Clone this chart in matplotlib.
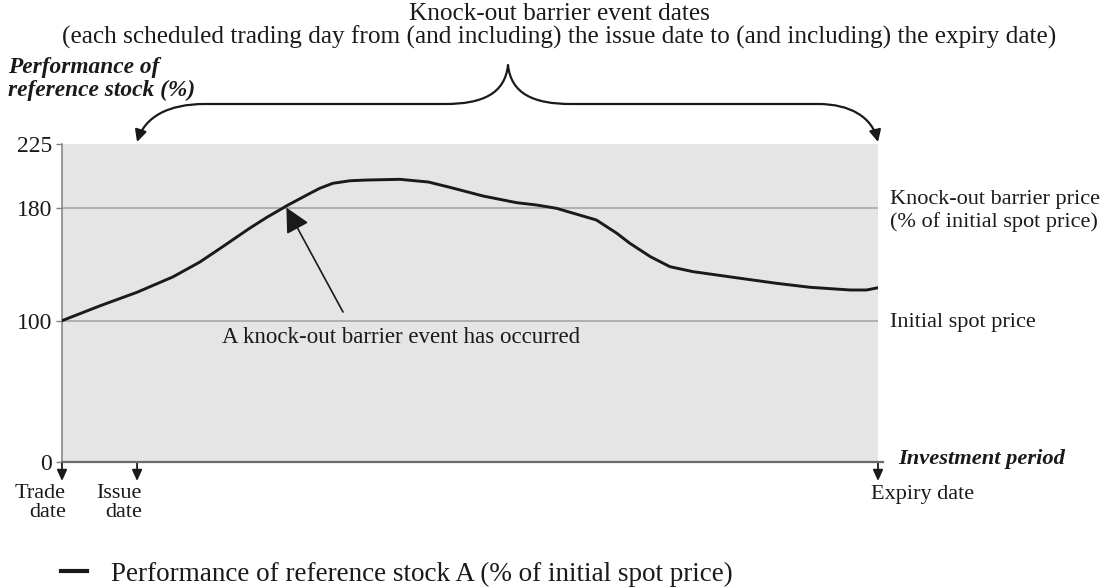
import matplotlib
matplotlib.use("Agg")
import matplotlib.pyplot as plt
from matplotlib.path import Path
from matplotlib.patches import FancyArrowPatch
from matplotlib.lines import Line2D

# ---------------- data ----------------
time_pts = [0, 4.7, 9.2, 13.6, 16.9, 19.4, 23.0, 25.1, 27.7, 30.0, 31.6, 33.2,
            35.3, 37.3, 41.4, 44.9, 47.5, 51.6, 55.7, 58.2, 60.6, 65.5, 68.0,
            69.6, 72.1, 74.5, 77.3, 83.1, 87.6, 91.7, 96.6, 98.6, 100]
performance = [100, 110.6, 120.1, 131.0, 141.5, 151.2, 165.4, 173.1, 181.8,
               188.9, 193.7, 197.2, 199.0, 199.5, 200, 198.1, 194.4, 188.2,
               183.5, 181.8, 179.5, 171.2, 161.8, 154.7, 145.3, 138.2, 134.7,
               130, 126.4, 123.6, 121.7, 121.7, 123.3]
barrier_level = 180
initial_level = 100
knock_out_time = 27.5
y_ticks = [0, 100, 180, 225]
date_names = ["Trade\ndate", "Issue\ndate", "Expiry date"]
date_pos = [0, 9.2, 100]

W, H = 1109, 587
SERIF = ["Liberation Serif", "DejaVu Serif"]
INK = "#1a1a1a"

fig = plt.figure(figsize=(W / 100, H / 100), dpi=100)
ax = fig.add_axes([62 / W, 1 - 462 / H, (878 - 62) / W, (462 - 144) / H])
ax.set_xlim(0, 100)
ax.set_ylim(0, 225)
ax.set_facecolor("#e5e5e5")

ax.axhline(barrier_level, color="#a6a6a6", lw=1.2, zorder=1)
ax.axhline(initial_level, color="#a6a6a6", lw=1.2, zorder=1)
ax.plot(time_pts, performance, color=INK, lw=2.1, zorder=3,
        solid_capstyle="round", solid_joinstyle="round")

for s in ["top", "right", "bottom"]:
    ax.spines[s].set_visible(False)
ax.spines["left"].set_color("#808080")
ax.spines["left"].set_linewidth(1.1)
ax.plot([0, 100.6], [0, 0], color="#6a6a6a", lw=1.6, clip_on=False, zorder=4)

ax.set_xticks([])
ax.set_yticks(y_ticks)
ax.set_yticklabels([str(v) for v in y_ticks], fontfamily=SERIF, fontsize=17,
                   color=INK)
ax.tick_params(axis="y", direction="out", length=4, width=1.0, color="#808080",
               pad=3)

def fx(px):
    return px / W

def fy(py):
    return 1 - py / H

def dx(px):
    return (px - 62) / (878 - 62) * 100

def dy(py):
    return (462 - py) / (462 - 144) * 225

# Title
TFS = 18.2
fig.text(fx(559), fy(14), "Knock-out barrier event dates", ha="center",
         va="center", fontfamily=SERIF, fontsize=TFS, color=INK)
fig.text(fx(559), fy(37),
         "(each scheduled trading day from (and including) the issue date to (and including) the expiry date)",
         ha="center", va="center", fontfamily=SERIF, fontsize=TFS, color=INK)

# Y axis title
for txt, yy in [("Performance of", 67), ("reference stock (%)", 90)]:
    fig.text(fx(8), fy(yy), txt, ha="left", va="center", fontfamily=SERIF,
             fontsize=16.8, fontweight="bold", fontstyle="italic", color=INK)

# Brace with arrows
iss, exp_ = date_pos[1], date_pos[2]
cusp = dx(508)
verts = [
    (iss, dy(142)), (dx(145), dy(117)), (dx(168), dy(104)), (dx(205), dy(104)),
    (dx(445), dy(104)),
    (dx(482), dy(104)), (dx(505), dy(94)), (cusp, dy(65)),
    (dx(511), dy(94)), (dx(534), dy(104)), (dx(571), dy(104)),
    (dx(818), dy(104)),
    (dx(850), dy(104)), (dx(872), dy(117)), (exp_, dy(142)),
]
codes = [Path.MOVETO, Path.CURVE4, Path.CURVE4, Path.CURVE4,
         Path.LINETO,
         Path.CURVE4, Path.CURVE4, Path.CURVE4,
         Path.CURVE4, Path.CURVE4, Path.CURVE4,
         Path.LINETO,
         Path.CURVE4, Path.CURVE4, Path.CURVE4]
brace = FancyArrowPatch(path=Path(verts, codes),
                        arrowstyle="<|-|>,head_length=0.5,head_width=0.25",
                        mutation_scale=14, lw=1.6, color=INK,
                        transform=ax.transData, clip_on=False)
ax.add_patch(brace)

# Right side labels
RFS = 16
ax.text(101.5, barrier_level + 6, "Knock-out barrier price", ha="left",
        va="center", fontfamily=SERIF, fontsize=RFS, color=INK, clip_on=False)
ax.text(101.5, barrier_level - 10, "(% of initial spot price)", ha="left",
        va="center", fontfamily=SERIF, fontsize=RFS, color=INK, clip_on=False)
ax.text(101.5, initial_level - 1, "Initial spot price", ha="left", va="center",
        fontfamily=SERIF, fontsize=RFS, color=INK, clip_on=False)
ax.text(102.5, dy(459), "Investment period", ha="left", va="center",
        fontfamily=SERIF, fontsize=16.2, fontweight="bold", fontstyle="italic",
        color=INK, clip_on=False)

# Down arrows at dates
for xp in date_pos:
    ax.annotate("", xy=(xp, dy(481)), xytext=(xp, 0), annotation_clip=False,
                arrowprops=dict(arrowstyle="-|>,head_length=0.55,head_width=0.25",
                                mutation_scale=12, lw=1.3, color=INK,
                                shrinkA=0, shrinkB=0))

DFS = 16
ax.text(dx(66), dy(503), date_names[0], ha="right", va="center",
        multialignment="right", fontfamily=SERIF, fontsize=DFS, color=INK,
        linespacing=1.05, clip_on=False)
ax.text(dx(142), dy(503), date_names[1], ha="right", va="center",
        multialignment="right", fontfamily=SERIF, fontsize=DFS, color=INK,
        linespacing=1.05, clip_on=False)
ax.text(dx(871), dy(495), date_names[2], ha="left", va="center",
        fontfamily=SERIF, fontsize=DFS, color=INK, clip_on=False)

# Knock-out event annotation
ax.annotate("", xy=(knock_out_time, barrier_level), xytext=(dx(343), dy(312)),
            annotation_clip=False,
            arrowprops=dict(arrowstyle="-|>,head_length=0.75,head_width=0.38",
                            mutation_scale=20, lw=1.2, color=INK,
                            shrinkA=0, shrinkB=0))
ax.text(dx(222), dy(338), "A knock-out barrier event has occurred", ha="left",
        va="center", fontfamily=SERIF, fontsize=16.5, color=INK)

# Legend
LFS = 19.5
leg = fig.legend(handles=[Line2D([], [], color=INK, lw=3.0)],
                 labels=["Performance of reference stock A (% of initial spot price)"],
                 loc="center left", bbox_to_anchor=(fx(61), fy(574)),
                 frameon=False, handlelength=0.95, handletextpad=0.9,
                 borderpad=0.0, borderaxespad=0.0,
                 prop={"family": SERIF, "size": LFS})
for t in leg.get_texts():
    t.set_color(INK)

fig.savefig("out.png", dpi=100, facecolor="white")
